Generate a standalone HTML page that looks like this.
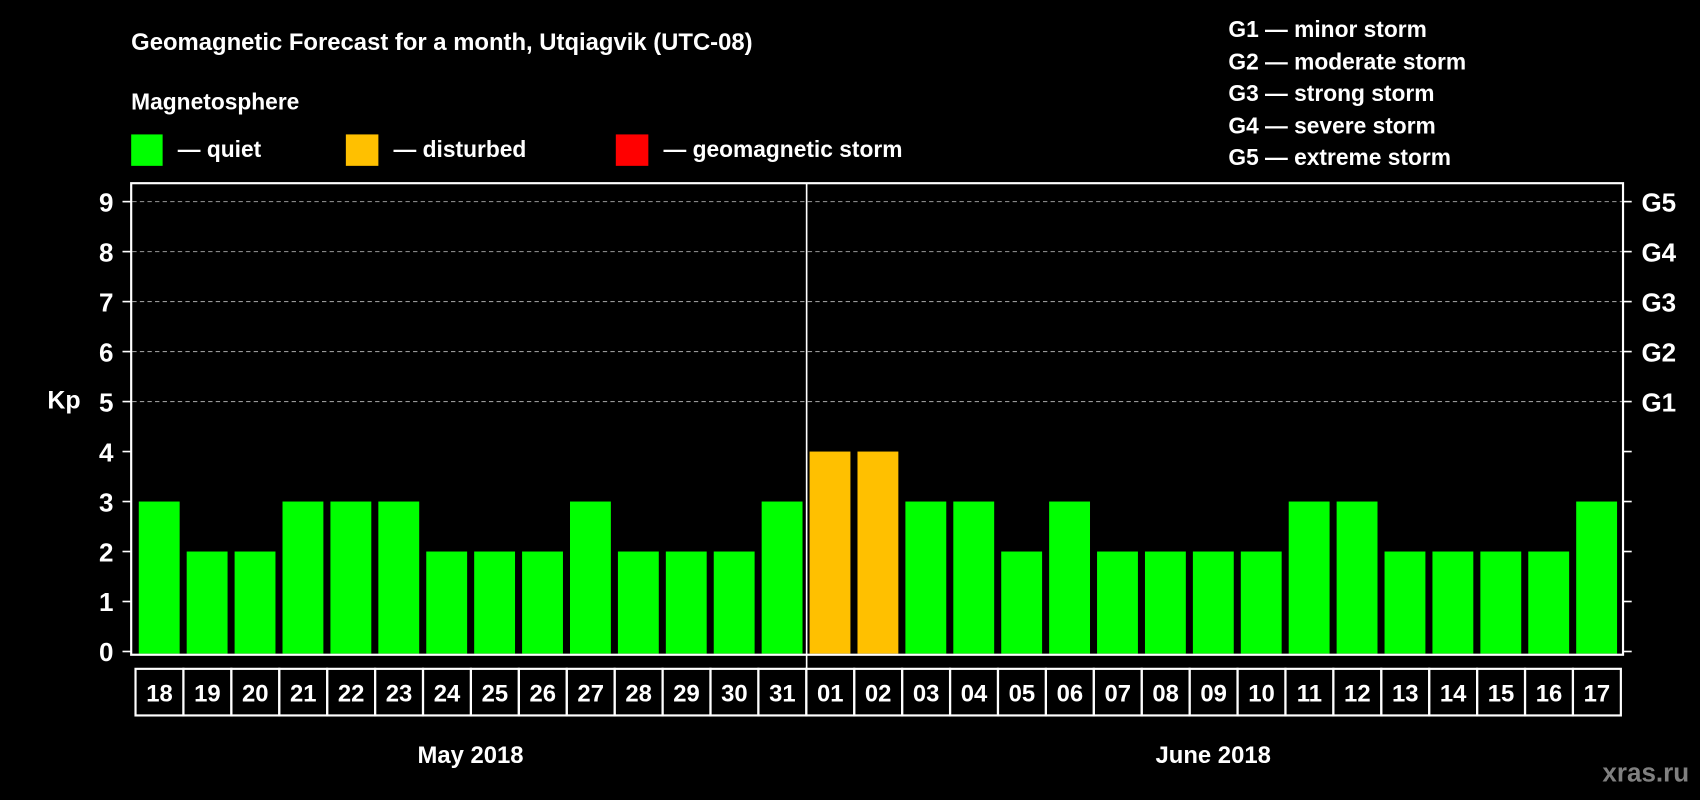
<!DOCTYPE html>
<html><head><meta charset="utf-8"><style>
html,body{margin:0;padding:0;background:#000;}
svg{display:block;font-family:"Liberation Sans",Arial,sans-serif;font-weight:bold;}
</style></head><body>
<svg id="chart" width="1700" height="800" viewBox="0 0 1568 738" preserveAspectRatio="none" xmlns="http://www.w3.org/2000/svg">
<rect width="1568" height="738" fill="#000"/>
<text x="121" y="46" fill="#fff" font-size="22">Geomagnetic Forecast for a month, Utqiagvik (UTC-08)</text>
<text x="121" y="101" fill="#fff" font-size="21">Magnetosphere</text>
<g><rect x="121" y="124" width="29" height="29" fill="#00ff00"/><text x="164" y="145" fill="#fff" font-size="21">— quiet</text></g>
<g><rect x="319" y="124" width="30" height="29" fill="#ffc000"/><text x="363" y="145" fill="#fff" font-size="21">— disturbed</text></g>
<g><rect x="568" y="124" width="30" height="29" fill="#ff0000"/><text x="612" y="145" fill="#fff" font-size="21">— geomagnetic storm</text></g>
<g fill="#fff" font-size="21">
<text x="1133" y="34">G1 — minor storm</text>
<text x="1133" y="64">G2 — moderate storm</text>
<text x="1133" y="93">G3 — strong storm</text>
<text x="1133" y="123">G4 — severe storm</text>
<text x="1133" y="152">G5 — extreme storm</text>
</g>
<text x="59" y="377" fill="#fff" font-size="23" text-anchor="middle">Kp</text>
<g id="grid"></g>
<g id="bars"></g>
<rect x="121" y="169" width="1376" height="435" fill="none" stroke="#fff" stroke-width="2"/>
<line x1="744" y1="169" x2="744" y2="617" stroke="#fff" stroke-width="1.5"/>
<g id="dates"></g>
<text x="434" y="704" fill="#fff" font-size="22" text-anchor="middle">May 2018</text>
<text x="1119" y="704" fill="#fff" font-size="22" text-anchor="middle">June 2018</text>
<text x="1558" y="721" fill="#808080" font-size="24" text-anchor="end">xras.ru</text>
</svg>
<script>
const days = ["18","19","20","21","22","23","24","25","26","27","28","29","30","31","01","02","03","04","05","06","07","08","09","10","11","12","13","14","15","16","17"];
const kpValues = [3,2,2,3,3,3,2,2,2,3,2,2,2,3,4,4,3,3,2,3,2,2,2,2,3,3,2,2,2,2,3];
const yTicks = [0,1,2,3,4,5,6,7,8,9];
const gLabels = ["G1","G2","G3","G4","G5"];
const NS = "http://www.w3.org/2000/svg";
const y0 = 601, yUnit = (601-186)/9;
const xStart = 124, pitch = (1494-124)/31;
function yScale(v){ return y0 - v*yUnit; }
function xScale(i){ return xStart + i*pitch; }
function mk(tag, attrs){ const e=document.createElementNS(NS,tag); for(const k in attrs) e.setAttribute(k,attrs[k]); return e; }
const grid=document.getElementById('grid');
yTicks.forEach(t=>{
  const y=yScale(t);
  if(t>=5){
    const g=mk('line',{x1:122,x2:1496,y1:y,y2:y,stroke:'#999','stroke-width':1,'stroke-dasharray':'4,3'});
    
    
    grid.appendChild(g);
  }
  const tl=mk('line',{x1:113,x2:121,y1:y,y2:y,stroke:'#fff','stroke-width':1.5});
  
  
  grid.appendChild(tl);
  const tr=mk('line',{x1:1497,x2:1505,y1:y,y2:y,stroke:'#fff','stroke-width':1.5});
  
  
  grid.appendChild(tr);
  const lb=mk('text',{x:98,y:y+9,fill:'#fff','font-size':24,'text-anchor':'middle'});
  lb.textContent=t;
  
  
  grid.appendChild(lb);
});
gLabels.forEach((g,i)=>{
  const y=yScale(5+i);
  const lb=mk('text',{x:1514,y:y+9,fill:'#fff','font-size':24});
  lb.textContent=g;
  
  
  grid.appendChild(lb);
});
const bars=document.getElementById('bars');
kpValues.forEach((v,i)=>{
  const color = v>=5 ? '#ff0000' : (v>=4 ? '#ffc000' : '#00ff00');
  const r=mk('rect',{x:xScale(i)+4,y:yScale(v),width:pitch-6.5,height:y0-yScale(v)+2,fill:color});
  
  
  bars.appendChild(r);
});
const dates=document.getElementById('dates');
days.forEach((d,i)=>{
  const x=xScale(i)+1;
  const r=mk('rect',{x:x,y:617,width:pitch,height:43,fill:'none',stroke:'#fff','stroke-width':2});
  
  
  dates.appendChild(r);
  const t=mk('text',{x:x+pitch/2,y:647,fill:'#fff','font-size':22,'text-anchor':'middle'});
  t.textContent=d;
  
  
  dates.appendChild(t);
});
</script>
</body></html>
